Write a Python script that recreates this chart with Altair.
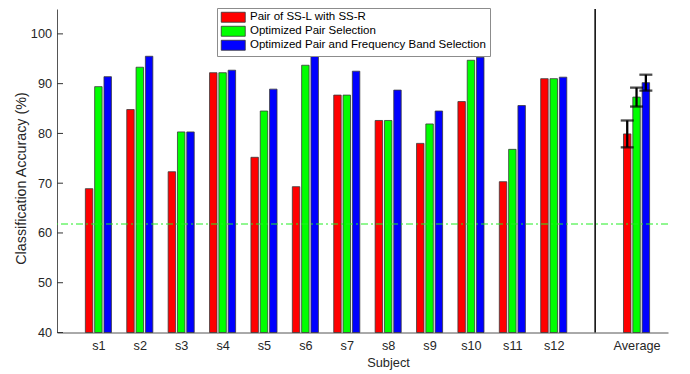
import altair as alt
import pandas as pd

# ---------------- data ----------------
subjects = ["s1", "s2", "s3", "s4", "s5", "s6", "s7", "s8", "s9", "s10", "s11", "s12", "Average"]
positions = [1, 2, 3, 4, 5, 6, 7, 8, 9, 10, 11, 12, 14]
series = [
    "Pair of SS-L with SS-R",
    "Optimized Pair Selection",
    "Optimized Pair and Frequency Band Selection",
]
colors = ["#ff0000", "#00ff00", "#0000ff"]

pair_ssl_ssr = [68.9, 84.8, 72.3, 92.2, 75.2, 69.3, 87.7, 82.6, 78.0, 86.4, 70.3, 91.0, 79.9]
opt_pair = [89.4, 93.3, 80.3, 92.2, 84.5, 93.7, 87.7, 82.6, 81.9, 94.7, 76.8, 91.0, 87.3]
opt_pair_band = [91.4, 95.5, 80.3, 92.7, 88.9, 95.8, 92.5, 88.7, 84.5, 95.3, 85.6, 91.3, 90.2]
avg_err = [2.7, 1.9, 1.6]

chance_level = [61.8]
separator_pos = [13]
y_ticks = [40, 50, 60, 70, 80, 90, 100]

# ---------------- layout helpers ----------------
offsets = [-0.225, 0.0, 0.225]
bar_w = 0.18
FONT = "Liberation Sans"
TXT = "#262626"
AX = "#555555"
X_TITLE = "Subject"
Y_TITLE = "Classification Accuracy (%)"

rows = []
for s_i, (name, vals) in enumerate(zip(series, [pair_ssl_ssr, opt_pair, opt_pair_band])):
    for subj, p, v in zip(subjects, positions, vals):
        c = p + offsets[s_i]
        rows.append(dict(subject=subj, series=name, value=v,
                         x0=c - bar_w / 2, x1=c + bar_w / 2, xc=c, base=40))
bars_df = pd.DataFrame(rows)

err_rows = []
avg_vals = [pair_ssl_ssr[-1], opt_pair[-1], opt_pair_band[-1]]
for s_i, (name, m, e) in enumerate(zip(series, avg_vals, avg_err)):
    err_rows.append(dict(series=name, xc=positions[-1] + offsets[s_i], lo=m - e, hi=m + e))
err_df = pd.DataFrame(err_rows)

label_expr = "''"
for subj, p in zip(subjects, positions):
    label_expr = f"datum.value == {p} ? '{subj}' : ({label_expr})"

x_scale = alt.Scale(domain=[0, 14.76], nice=False, zero=False)
y_scale = alt.Scale(domain=[40, 105], nice=False, zero=False)

x_axis = alt.Axis(values=positions, labelExpr=label_expr, ticks=False, tickSize=0,
                  grid=False, labelPadding=16.5, labelBaseline="alphabetic",
                  labelFontSize=12.7, labelFont=FONT, labelColor=TXT,
                  domainColor=AX, domainWidth=1,
                  titleFont=FONT, titleFontSize=12.8,
                  titleFontWeight="normal", titleColor=TXT,
                  titleX=331, titleY=33.5, titleBaseline="alphabetic",
                  titleAnchor="start", titleAlign="center")
y_axis = alt.Axis(values=y_ticks, ticks=False, tickSize=0, grid=False,
                  labelPadding=5.5, labelFontSize=12.7, labelFont=FONT,
                  labelColor=TXT, domainColor=AX, domainWidth=1,
                  titleFont=FONT, titleFontSize=14.3, titleFontWeight="normal",
                  titleColor=TXT, titleX=-36, titleY=169, titleAngle=270,
                  titleAlign="center", titleBaseline="middle", titleAnchor="start")


def X(field):
    return alt.X(field, scale=x_scale, axis=x_axis, title=X_TITLE)


def Y(field):
    return alt.Y(field, scale=y_scale, axis=y_axis, title=Y_TITLE)


bars = alt.Chart(bars_df).mark_rect(stroke="#3a3a3a", strokeWidth=0.8).encode(
    x=X("x0:Q"),
    x2="x1:Q",
    y=Y("value:Q"),
    y2="base:Q",
    color=alt.Color("series:N",
                    scale=alt.Scale(domain=series, range=colors),
                    sort=series,
                    legend=alt.Legend(title=None, orient="none", legendX=160, legendY=-1,
                                      symbolType="M-1,-1H3.8V1H-1Z", symbolSize=100,
                                      symbolStrokeColor="#333333", symbolStrokeWidth=0.8,
                                      symbolOpacity=1, labelFontSize=11.5, labelFont=FONT,
                                      labelColor="#000000", labelOffset=18,
                                      strokeColor="#8c8c8c", fillColor="white",
                                      padding=3.5, rowPadding=0, labelLimit=400)),
)

tick_df = pd.DataFrame({"tick": y_ticks})
ticks = alt.Chart(tick_df).mark_rule(color="#333333", strokeWidth=1).encode(
    y=Y("tick:Q"),
    x=alt.value(0),
    x2=alt.value(6),
)

chance = alt.Chart(pd.DataFrame({"level": chance_level})).mark_rule(
    color="#22ee22", strokeWidth=1, strokeDash=[7, 3, 2, 3]
).encode(y=Y("level:Q"))

sep = alt.Chart(pd.DataFrame({"pos": separator_pos})).mark_rule(
    color="#000000", strokeWidth=1.5
).encode(x=X("pos:Q"))

err_rule = alt.Chart(err_df).mark_rule(color="#000000", strokeWidth=2.3).encode(
    x=X("xc:Q"),
    y=Y("lo:Q"),
    y2="hi:Q",
)
cap_lo = alt.Chart(err_df).mark_tick(color="#000000", orient="horizontal", size=13,
                                      thickness=2.3).encode(
    x=X("xc:Q"),
    y=Y("lo:Q"),
)
cap_hi = alt.Chart(err_df).mark_tick(color="#000000", orient="horizontal", size=13,
                                      thickness=2.3).encode(
    x=X("xc:Q"),
    y=Y("hi:Q"),
)

chart = alt.layer(bars, chance, sep, ticks, err_rule, cap_lo, cap_hi).properties(
    width=611,
    height=323.5,
    autosize=alt.AutoSizeParams(type="none"),
    padding={"left": 49, "top": 1, "right": 10, "bottom": 40},
    background="white",
).configure_view(stroke=None)

chart.save("out.html", embed_options={"renderer": "svg", "actions": False})
